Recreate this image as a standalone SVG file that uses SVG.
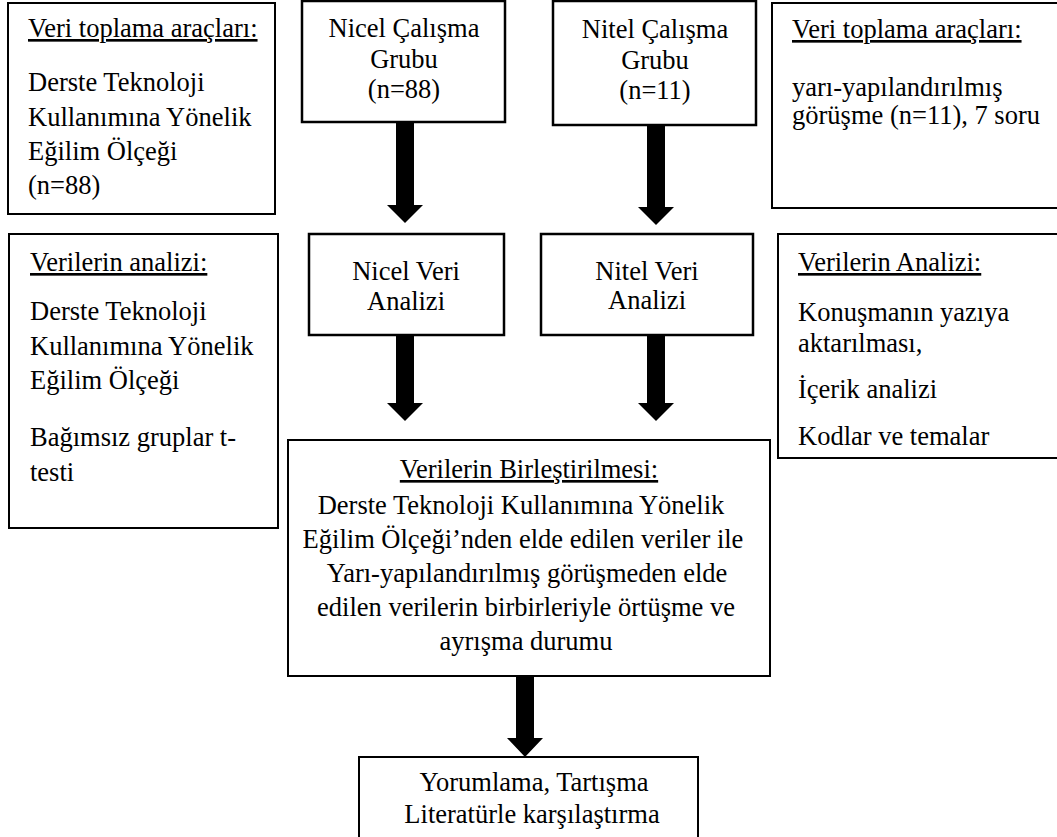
<svg xmlns="http://www.w3.org/2000/svg" width="1057" height="837" viewBox="0 0 1057 837">
<style>
  .box { fill: #ffffff; stroke: #000000; stroke-width: 2; }
  .boxb { fill: #ffffff; stroke: #000000; stroke-width: 2.5; }
  text { font-family: "Liberation Serif", "Times New Roman", serif; font-size: 26.5px; fill: #000000; }
  .c { text-anchor: middle; }
  .u { text-decoration: underline; }
  .arrow { fill: #000000; stroke: none; }
</style>
<rect width="1057" height="837" fill="#ffffff"/>

<g id="connectors">
  <path class="arrow" d="M396,122 H414 V205 H423 L405,223 L387,205 H396 Z"/>
  <path class="arrow" d="M647,125 H665 V207 H674 L656,225 L638,207 H647 Z"/>
  <path class="arrow" d="M396,335 H414 V403 H423 L405,421 L387,403 H396 Z"/>
  <path class="arrow" d="M647,335 H665 V403 H674 L656,421 L638,403 H647 Z"/>
  <path class="arrow" d="M516,676 H534 V738 H543 L525,757 L507,738 H516 Z"/>
</g>

<g id="box-veri-toplama-nicel">
  <rect class="box" x="8" y="3" width="267" height="211"/>
  <text x="28" y="37" class="u">Veri toplama araçları:</text>
  <text x="28" y="91">Derste Teknoloji</text>
  <text x="28" y="126">Kullanımına Yönelik</text>
  <text x="28" y="160">Eğilim Ölçeği</text>
  <text x="28" y="194">(n=88)</text>
</g>

<g id="box-nicel-calisma">
  <rect class="boxb" x="302" y="1" width="203" height="121"/>
  <text x="404" y="37" class="c">Nicel Çalışma</text>
  <text x="404" y="68" class="c">Grubu</text>
  <text x="404" y="98" class="c">(n=88)</text>
</g>

<g id="box-nitel-calisma">
  <rect class="boxb" x="553" y="1" width="203" height="124"/>
  <text x="655" y="38" class="c">Nitel Çalışma</text>
  <text x="655" y="69" class="c">Grubu</text>
  <text x="655" y="99" class="c">(n=11)</text>
</g>

<g id="box-veri-toplama-nitel">
  <rect class="box" x="772" y="3" width="290" height="205"/>
  <text x="792" y="38" class="u">Veri toplama araçları:</text>
  <text x="792" y="96">yarı-yapılandırılmış</text>
  <text x="792" y="124">görüşme (n=11), 7 soru</text>
</g>

<g id="box-verilerin-analizi-nicel">
  <rect class="box" x="9" y="234" width="269" height="294"/>
  <text x="30" y="271" class="u">Verilerin analizi:</text>
  <text x="30" y="320">Derste Teknoloji</text>
  <text x="30" y="355">Kullanımına Yönelik</text>
  <text x="30" y="389">Eğilim Ölçeği</text>
  <text x="30" y="446">Bağımsız gruplar t-</text>
  <text x="30" y="481">testi</text>
</g>

<g id="box-nicel-veri-analizi">
  <rect class="boxb" x="309" y="234" width="195" height="101"/>
  <text x="406" y="280" class="c">Nicel Veri</text>
  <text x="406" y="310" class="c">Analizi</text>
</g>

<g id="box-nitel-veri-analizi">
  <rect class="boxb" x="541" y="234" width="212" height="101"/>
  <text x="647" y="280" class="c">Nitel Veri</text>
  <text x="647" y="309" class="c">Analizi</text>
</g>

<g id="box-verilerin-analizi-nitel">
  <rect class="box" x="778" y="234" width="284" height="224"/>
  <text x="798" y="271" class="u">Verilerin Analizi:</text>
  <text x="798" y="321">Konuşmanın yazıya</text>
  <text x="798" y="352">aktarılması,</text>
  <text x="798" y="398">İçerik analizi</text>
  <text x="798" y="445">Kodlar ve temalar</text>
</g>

<g id="box-birlestirme">
  <rect class="box" x="288" y="440" width="482" height="236"/>
  <text x="529" y="478" class="c u">Verilerin Birleştirilmesi:</text>
  <text x="521" y="514" class="c">Derste Teknoloji Kullanımına Yönelik</text>
  <text x="523" y="548" class="c">Eğilim Ölçeği’nden elde edilen veriler ile</text>
  <text x="527" y="582" class="c">Yarı-yapılandırılmış görüşmeden elde</text>
  <text x="526" y="616" class="c">edilen verilerin birbirleriyle örtüşme ve</text>
  <text x="526" y="650" class="c">ayrışma durumu</text>
</g>

<g id="box-yorumlama">
  <rect class="box" x="359" y="757" width="339" height="90"/>
  <text x="534" y="791" class="c">Yorumlama, Tartışma</text>
  <text x="532" y="823" class="c">Literatürle karşılaştırma</text>
</g>
</svg>
